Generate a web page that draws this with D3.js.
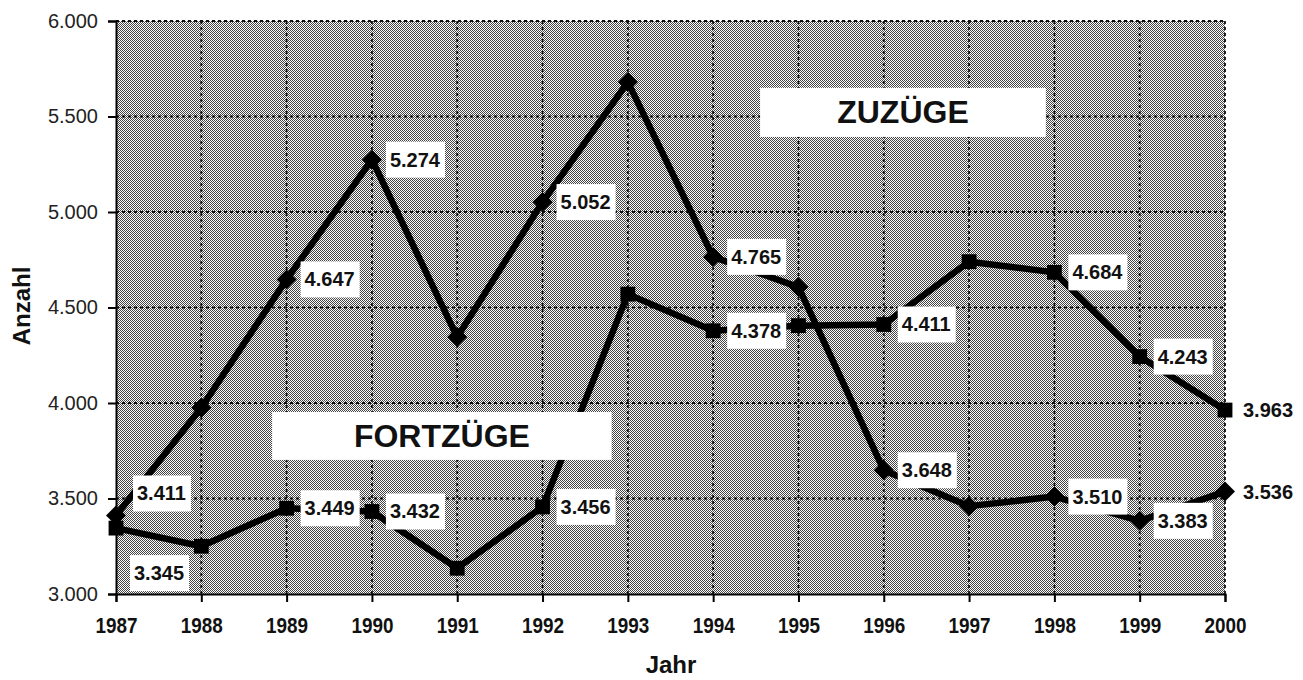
<!DOCTYPE html>
<html lang="de">
<head>
    <meta charset="utf-8">
    <title>Zuzüge und Fortzüge</title>
    <script src="https://cdn.jsdelivr.net/npm/d3@7"></script>
    <style>
        body { margin: 0; background: #fff; }
        svg text { font-family: "Liberation Sans", Arial, sans-serif; }
    </style>
</head>
<body>
    <div id="chart"></div>

    <script>
        // Daten
        const years = [1987, 1988, 1989, 1990, 1991, 1992, 1993, 1994, 1995, 1996, 1997, 1998, 1999, 2000];
        const zuzuege = [3411, 3975, 4647, 5274, 4345, 5052, 5680, 4765, 4607, 3648, 3460, 3510, 3383, 3536];
        const fortzuege = [3345, 3250, 3449, 3432, 3135, 3456, 4570, 4378, 4405, 4411, 4740, 4684, 4243, 3963];
        const yTicks = [3000, 3500, 4000, 4500, 5000, 5500, 6000];
        // Jahre mit Beschriftung
        const zuzuegeLabelled = [1987, 1989, 1990, 1992, 1994, 1996, 1998, 1999, 2000];
        const fortzuegeLabelled = [1987, 1989, 1990, 1992, 1994, 1996, 1998, 1999, 2000];

        const width = 1303, height = 680;

        const de = d3.formatLocale({ decimal: ",", thousands: ".", grouping: [3], currency: ["", " €"] });
        const fmt = de.format(",.0f");

        const x = d3.scaleLinear().domain([1987, 2000]).range([116, 1225]);
        const y = d3.scaleLinear().domain([3000, 6000]).range([594, 21]);

        const svg = d3.select("#chart").append("svg")
            .attr("width", width)
            .attr("height", height);

        // Rastermuster wie im Druck
        const defs = svg.append("defs");
        const pat = defs.append("pattern")
            .attr("id", "raster")
            .attr("patternUnits", "userSpaceOnUse")
            .attr("width", 4).attr("height", 4);
        pat.append("rect").attr("width", 4).attr("height", 4).attr("fill", "#fcfcfc");
        [[0, 0], [2, 0], [1, 1], [3, 1], [0, 2], [2, 2], [1, 3], [3, 3]].forEach(p => {
            pat.append("rect").attr("x", p[0]).attr("y", p[1])
                .attr("width", 1).attr("height", 1).attr("fill", "#444");
        });

        svg.append("rect")
            .attr("x", x(1987)).attr("y", y(6000))
            .attr("width", x(2000) - x(1987))
            .attr("height", y(3000) - y(6000))
            .attr("fill", "url(#raster)");

        // Gitternetz
        const grid = svg.append("g").attr("stroke", "#111").attr("stroke-width", 1.8)
            .attr("stroke-dasharray", "3,3");
        grid.selectAll("line.v").data(years.slice(1)).enter().append("line")
            .attr("x1", d => x(d)).attr("x2", d => x(d))
            .attr("y1", y(6000)).attr("y2", y(3000));
        grid.selectAll("line.h").data(yTicks.slice(1)).enter().append("line")
            .attr("x1", x(1987)).attr("x2", x(2000))
            .attr("y1", d => y(d)).attr("y2", d => y(d));

        // Achsen
        const yAxis = svg.append("g")
            .attr("transform", `translate(${x(1987)},0)`)
            .call(d3.axisLeft(y).tickValues(yTicks).tickFormat(fmt).tickSize(8).tickPadding(10));
        yAxis.selectAll("text").attr("font-size", 20).attr("fill", "#222");

        const xAxis = svg.append("g")
            .attr("transform", `translate(0,${y(3000)})`)
            .call(d3.axisBottom(x).tickValues(years).tickFormat(d => d).tickSize(8).tickPadding(15));
        xAxis.selectAll("text").attr("font-size", 22).attr("font-weight", "bold").attr("fill", "#111")
            .attr("textLength", 42).attr("lengthAdjust", "spacingAndGlyphs");

        svg.selectAll(".domain, .tick line").attr("stroke", "#000").attr("stroke-width", 2);

        svg.append("text")
            .attr("transform", `translate(30,306) rotate(-90)`)
            .attr("text-anchor", "middle")
            .attr("font-size", 24).attr("font-weight", "bold").attr("fill", "#111")
            .text("Anzahl");
        svg.append("text")
            .attr("x", 671).attr("y", 673)
            .attr("text-anchor", "middle")
            .attr("font-size", 24).attr("font-weight", "bold").attr("fill", "#111")
            .text("Jahr");

        // Linien und Markierungen
        const line = d3.line().x((d, i) => x(years[i])).y(d => y(d));
        const series = [
            { values: zuzuege, labelled: zuzuegeLabelled, marker: "diamond" },
            { values: fortzuege, labelled: fortzuegeLabelled, marker: "square" }
        ];

        series.forEach(s => {
            svg.append("path")
                .datum(s.values)
                .attr("fill", "none")
                .attr("stroke", "#000")
                .attr("stroke-width", 6.5)
                .attr("stroke-linejoin", "round")
                .attr("d", line);
        });
        series.forEach(s => {
            svg.append("g").selectAll("path")
                .data(s.values).enter().append("path")
                .attr("d", d3.symbol(d3.symbolSquare, s.marker === "diamond" ? 200 : 220)())
                .attr("fill", "#000")
                .attr("transform", (d, i) => `translate(${x(years[i])},${y(d)})` + (s.marker === "diamond" ? " rotate(45)" : ""));
        });

        // Wertebeschriftungen (weiße Kästchen)
        const offsets = { "0-1987": [17, -22], "1-1987": [14, 45] };
        const labels = svg.append("g");
        series.forEach((s, si) => {
            s.labelled.forEach(yr => {
                const i = years.indexOf(yr);
                const v = s.values[i];
                const off = offsets[si + "-" + yr] || [14, 0];
                const cx = x(yr) + off[0], cy = y(v) + off[1];
                const g = labels.append("g");
                const r = g.append("rect").attr("fill", "#fff");
                const t = g.append("text")
                    .attr("x", cx + 4).attr("y", cy + 7)
                    .attr("font-size", 20).attr("font-weight", "bold").attr("fill", "#111")
                    .text(fmt(v));
                const w = t.node().getComputedTextLength();
                r.attr("x", cx).attr("y", cy - 18).attr("width", w + 9).attr("height", 36);
            });
        });

        // Serientitel
        const titles = [
            { text: "ZUZÜGE", x0: 1994.55, x1: 1997.9, y0: 5650, y1: 5393 },
            { text: "FORTZÜGE", x0: 1988.83, x1: 1992.81, y0: 3953, y1: 3702 }
        ];
        titles.forEach(t => {
            svg.append("rect")
                .attr("x", x(t.x0)).attr("y", y(t.y0))
                .attr("width", x(t.x1) - x(t.x0)).attr("height", y(t.y1) - y(t.y0))
                .attr("fill", "#fff");
            svg.append("text")
                .attr("x", (x(t.x0) + x(t.x1)) / 2)
                .attr("y", (y(t.y0) + y(t.y1)) / 2 + 11)
                .attr("text-anchor", "middle")
                .attr("font-size", 32).attr("font-weight", "bold").attr("fill", "#111")
                .text(t.text);
        });
    </script>
</body>
</html>
